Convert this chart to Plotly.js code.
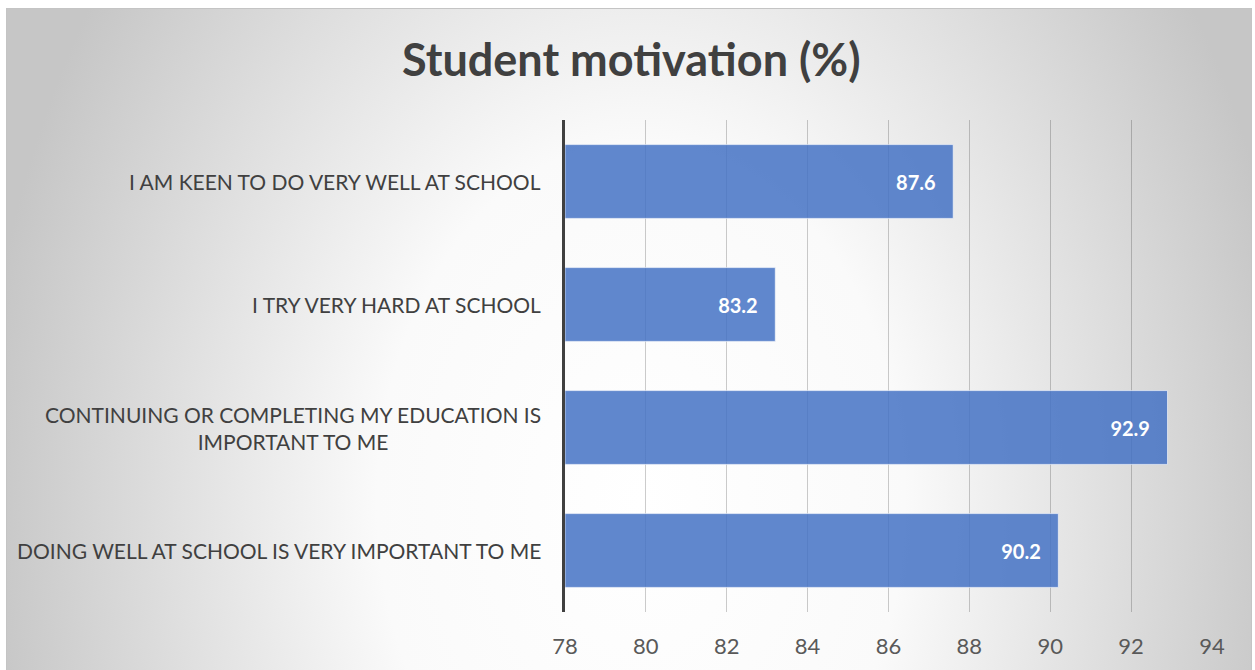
<!DOCTYPE html>
<html>
<head>
<meta charset="utf-8">
<script src="https://cdn.plot.ly/plotly-3.0.1.min.js"></script>
<style>
  html, body { margin: 0; padding: 0; background: #ffffff; width: 1255px; height: 670px; overflow: hidden; }
  #frame {
    position: absolute; left: 6px; top: 8px; width: 1246px; height: 670px;
    border-left: 1px solid #c4c4c4; border-top: 1px solid #c4c4c4; border-right: 1px solid #c4c4c4;
    box-sizing: border-box;
    background: radial-gradient(ellipse 660px 900px at 634px 492px, #ffffff 0%, #fafafa 40%, #c6c6c6 100%);
  }
  #chart { position: absolute; left: 0; top: 0; width: 1255px; height: 670px; }
</style>
</head>
<body>
<div id="frame"></div>
<div id="chart"></div>
<script>
// Data (top to bottom)
const categories = [
  "I AM KEEN TO DO VERY WELL AT SCHOOL",
  "I TRY VERY HARD AT SCHOOL",
  "CONTINUING OR COMPLETING MY EDUCATION IS<br>IMPORTANT TO ME",
  "DOING WELL AT SCHOOL IS VERY IMPORTANT TO ME"
];
const values = [87.6, 83.2, 92.9, 90.2];
const tickValues = [78, 80, 82, 84, 86, 88, 90, 92, 94];
const axisStart = 78;
const chartTitle = "Student motivation (%)";

const FONT = "Lato, 'Open Sans', sans-serif";

const trace = {
  type: "bar",
  orientation: "h",
  y: categories,
  x: values.map(v => v - axisStart),
  base: axisStart,
  width: 0.6,
  marker: { color: "rgba(68,114,196,0.85)", line: { color: "rgba(255,255,255,0.6)", width: 1 } },
  text: values.map(v => v.toFixed(1) + "\u00a0\u00a0\u00a0"),
  textposition: "inside",
  insidetextanchor: "end",
  constraintext: "none",
  textfont: { family: FONT, size: 20, color: "#ffffff", weight: 700 },
  hoverinfo: "skip"
};

const annotations = categories.map(c => ({
  xref: "paper", yref: "y", x: 0, y: c,
  xanchor: "right", yanchor: "middle", xshift: -22,
  text: c, align: "center", showarrow: false,
  font: { family: FONT, size: 21, color: "#404040" }
}));

const layout = {
  width: 1255, height: 670,
  paper_bgcolor: "rgba(0,0,0,0)", plot_bgcolor: "rgba(0,0,0,0)",
  margin: { l: 565, r: 43, t: 120, b: 58, pad: 0 },
  title: {
    text: chartTitle, xref: "container", yref: "container",
    x: 0.503, y: 0.91, xanchor: "center", yanchor: "middle",
    font: { family: FONT, size: 45, color: "#404040", weight: 700 }
  },
  xaxis: {
    range: [78, 94], tickvals: tickValues, ticktext: tickValues.map(String),
    showgrid: true, gridcolor: "rgba(0,0,0,0.2)", gridwidth: 1,
    zeroline: false, showline: false, ticks: "",
    ticklabelstandoff: 19,
    tickfont: { family: FONT, size: 22, color: "#595959" },
    fixedrange: true
  },
  yaxis: {
    type: "category", categoryorder: "array", categoryarray: categories,
    autorange: "reversed",
    showticklabels: false, showgrid: false, zeroline: false,
    showline: true, linecolor: "#404040", linewidth: 3, ticks: "",
    fixedrange: true
  },
  annotations: annotations,
  showlegend: false,
  bargap: 0.4
};

Plotly.newPlot("chart", [trace], layout, { displayModeBar: false, staticPlot: true });
</script>
</body>
</html>
